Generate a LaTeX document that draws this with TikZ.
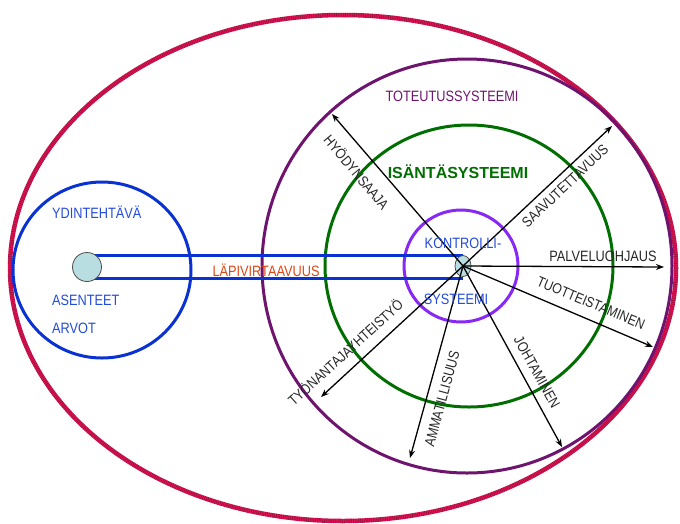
\documentclass[tikz,border=0pt]{standalone}
\usepackage{fontspec}
\setmainfont{Liberation Sans}[FakeStretch=0.85]
\newfontfamily\widefont{Liberation Sans}
\usetikzlibrary{arrows.meta,shapes.geometric}
\definecolor{rimred}{RGB}{225,20,85}
\definecolor{realpurple}{RGB}{110,20,110}
\definecolor{hostgreen}{RGB}{0,110,0}
\definecolor{ctrlviolet}{RGB}{135,40,245}
\definecolor{coreblue}{RGB}{10,50,210}
\definecolor{textblue}{RGB}{35,75,220}
\definecolor{flowred}{RGB}{220,70,20}
\definecolor{hubfill}{RGB}{185,222,225}

\begin{document}
\begin{tikzpicture}[
            x=1pt, y=-1pt,
            every node/.style = {inner sep=0pt, font=\fontsize{15}{18}\selectfont},
            ring/.style = {line width=3pt},
            flow/.style = {draw=coreblue, line width=3pt},
            dot/.style = {draw=black!70, fill=hubfill, line width=0.8pt},
            arrow/.style = {draw=black, line width=1.3pt, -{Stealth[length=8pt,width=6pt]}},
            spoke/.style = {text=black!85, font=\fontsize{14.5}{17}\selectfont}
        ]
        \useasboundingbox (0,0) rectangle (680,523);

        % systems
        \draw[ring, draw=rimred, line width=4.5pt] (343,268) ellipse [x radius=333, y radius=253];
        \draw[line width=4.5pt, draw=black, opacity=0.3, dash pattern=on 0.6pt off 1.2pt] (343,268) ellipse [x radius=333, y radius=253];
        \draw[ring, draw=realpurple] (467,266) ellipse [x radius=205, y radius=207];
        \draw[ring, draw=hostgreen] (469,266) ellipse [x radius=144, y radius=141];
        \draw[ring, draw=ctrlviolet] (461,266) ellipse [x radius=57, y radius=56];
        \draw[ring, draw=coreblue] (102,270) ellipse [x radius=89, y radius=88];

        % flow between core and control
        \coordinate (coremid) at (87,267);
        \coordinate (hubmid) at (463,266);
        \draw[flow] (coremid |- 0,255) -- (hubmid |- 0,255);
        \draw[flow] (coremid |- 0,278) -- (hubmid |- 0,278);
        \node[dot, shape=circle, minimum size=29pt] (core) at (coremid) {};
        \node[dot, shape=ellipse, minimum width=16pt, minimum height=21pt] (hub) at (hubmid) {};

        % spokes
        \coordinate (t1) at (332,114);
        \coordinate (t2) at (612,126);
        \coordinate (t3) at (664,267);
        \coordinate (t4) at (653,347);
        \coordinate (t5) at (562,447);
        \coordinate (t6) at (410,458);
        \coordinate (t7) at (321,397);
        \draw[arrow] (hub.center) -- (t1);
        \draw[arrow] (hub.center) -- (t2);
        \draw[arrow] (hub.center) -- (t3);
        \draw[arrow] (hub.center) -- (t4);
        \draw[arrow] (hub.center) -- (t5);
        \draw[arrow] (hub.center) -- (t6);
        \draw[arrow] (hub.center) -- (t7);

        % labels
        \node[anchor=base, text=realpurple] (toteutus) at (452,101) {TOTEUTUSSYSTEEMI};
        \node[anchor=base, text=hostgreen, font=\widefont\bfseries\fontsize{16}{19}\selectfont] (isanta) at (458,178) {ISÄNTÄSYSTEEMI};
        \node[anchor=base, text=textblue] (kontrolli) at (463,248) {KONTROLLI-};
        \node[anchor=base, text=textblue] (systeemi) at (456,304) {SYSTEEMI};
        \node[anchor=base, text=flowred] (lapivirta) at (266,276) {LÄPIVIRTAAVUUS};
        \node[anchor=base west, text=textblue] (ydin) at (52,218) {YDINTEHTÄVÄ};
        \node[anchor=base west, text=textblue] (asenteet) at (52,305) {ASENTEET};
        \node[anchor=base west, text=textblue] (arvot) at (52,333) {ARVOT};
        \node[anchor=base, spoke, font=\fontsize{15}{18}\selectfont] (palvelu) at (603,261) {PALVELUOHJAUS};
        \node[spoke, rotate=-50] (hyoty) at (357,172) {HYÖDYNSAAJA};
        \node[spoke, rotate=43.4] (saavutus) at (565,186) {SAAVUTETTAVUUS};
        \node[spoke, rotate=-22.5] (tuote) at (591,303) {TUOTTEISTAMINEN};
        \node[spoke, rotate=-60.8] (johto) at (537,372) {JOHTAMINEN};
        \node[spoke, rotate=74.7] (ammatti) at (442,399) {AMMATILLISUUS};
        \node[spoke, rotate=42.3] (tyonanto) at (345,352) {TYÖNANTAJAYHTEISTYÖ};
    \end{tikzpicture}
\end{document}
